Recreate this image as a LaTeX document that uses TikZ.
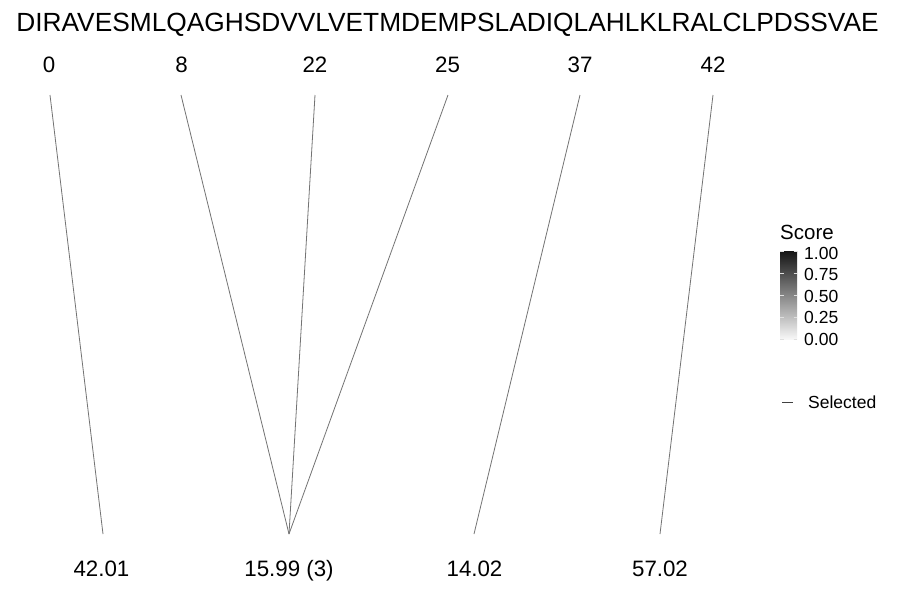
\documentclass[tikz,border=0pt]{standalone}
\usepackage{fontspec}
\setmainfont{Liberation Sans}
\begin{document}
\begin{tikzpicture}[x=1pt,y=-1pt,
  seqtxt/.style={inner sep=0pt,anchor=base,font=\fontsize{26.3}{31}\selectfont},
  numtxt/.style={inner sep=0pt,anchor=base,font=\fontsize{22.3}{27}\selectfont},
  legtitle/.style={inner sep=0pt,anchor=base west,font=\fontsize{20.5}{24}\selectfont},
  legtxt/.style={inner sep=0pt,anchor=west,font=\fontsize{17.5}{21}\selectfont},
  link/.style={draw=black!55,line width=0.8pt},
  tickmark/.style={draw=white!75!gray,line width=0.6pt}]
\useasboundingbox (0,0) rectangle (900,600);
\fill[white] (0,0) rectangle (900,600);
% sequence
\node[seqtxt] (seq) at (447.5,31) {DIRAVESMLQAGHSDVVLVETMDEMPSLADIQLAHLKLRALCLPDSSVAE};
% top positions
\node[numtxt] (p0) at (49,72) {0};
\node[numtxt] (p8) at (181.5,72) {8};
\node[numtxt] (p22) at (315,72) {22};
\node[numtxt] (p25) at (447.5,72) {25};
\node[numtxt] (p37) at (580,72) {37};
\node[numtxt] (p42) at (713,72) {42};
% bottom masses
\node[numtxt] (m1) at (101.5,576) {42.01};
\node[numtxt] (m2) at (289,576) {15.99 (3)};
\node[numtxt] (m3) at (474.5,576) {14.02};
\node[numtxt] (m4) at (660,576) {57.02};
% line ends
\coordinate (a0) at (50,95);
\coordinate (a8) at (181,95);
\coordinate (a22) at (315,95);
\coordinate (a25) at (448,95);
\coordinate (a37) at (580,95);
\coordinate (a42) at (713,95);
\coordinate (b1) at (103,534);
\coordinate (b2) at (289,534);
\coordinate (b3) at (474,534);
\coordinate (b4) at (660,534);
\draw[link] (a0) -- (b1);
\draw[link] (a8) -- (b2);
\draw[link] (a22) -- (b2);
\draw[link] (a25) -- (b2);
\draw[link] (a37) -- (b3);
\draw[link] (a42) -- (b4);
% legend
\node[legtitle] (lt) at (780,239) {Score};
\shade[top color=black!92,bottom color=black!3] (780,251) rectangle (797,339);
\foreach \yy in {251,273,295,317,339}{
  \draw[tickmark] (780,\yy) -- (783.5,\yy);
  \draw[tickmark] (793.5,\yy) -- (797,\yy);
}
\node[legtxt] (l100) at (804,253) {1.00};
\node[legtxt] (l075) at (804,274.5) {0.75};
\node[legtxt] (l050) at (804,296) {0.50};
\node[legtxt] (l025) at (804,317.5) {0.25};
\node[legtxt] (l000) at (804,339) {0.00};
\coordinate (s1) at (782,402);
\coordinate (s2) at (793,402);
\draw[black!75,line width=0.9pt] (s1) -- (s2);
\node[legtxt] (sel) at (808,402.5) {Selected};
\end{tikzpicture}
\end{document}
